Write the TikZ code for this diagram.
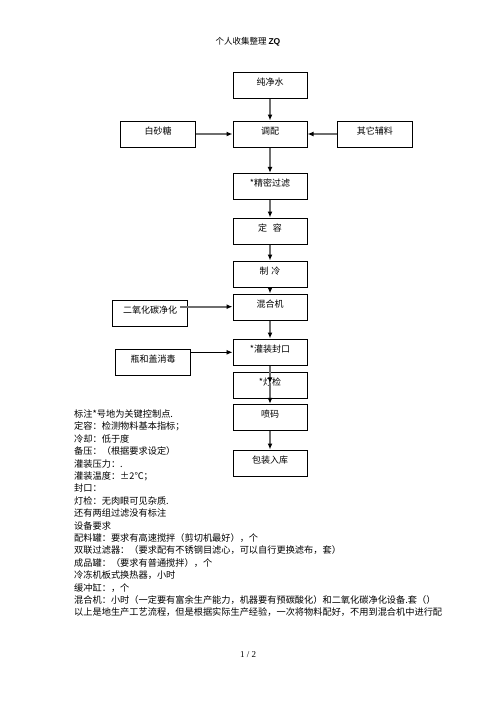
\documentclass[tikz,border=0pt]{standalone}
\usepackage{fontspec}
\setmainfont{Noto Sans CJK SC}
\newfontfamily\latinsans{Liberation Sans}
\newfontfamily\latinserif{Liberation Serif}
\usetikzlibrary{arrows.meta}
\definecolor{arrgray}{RGB}{110,110,110}
\begin{document}
\begin{tikzpicture}[x=1pt,y=-1pt,
  box/.style={draw=black,line width=1pt,minimum width=74pt,minimum height=26pt,inner sep=0pt,
    text height=8pt,text depth=7pt,font=\fontsize{9}{10}\selectfont},
  sidebox/.style={box,minimum width=75pt},
  flow/.style={draw=arrgray,line width=1.8pt,-{Latex[length=6pt,width=5pt,color=black]}},
  thinflow/.style={draw=black,line width=0.9pt,-{Latex[length=6pt,width=5pt]}},
  body/.style={anchor=west,inner sep=0pt,font=\fontsize{9.2}{11}\selectfont}]
\useasboundingbox[fill=white] (0,0) rectangle (496,702);

\node (hdr) at (248,42) {\fontsize{8.5}{10}\selectfont 个人收集整理 {\latinsans\bfseries ZQ}};

\node[box] (water) at (270,85) {纯净水};
\node[box] (mix) at (270,134) {调配};
\node[sidebox] (sugar) at (158.2,134) {白砂糖};
\node[sidebox] (other) at (374.8,134) {其它辅料};
\node[box] (filter) at (270,186.3) {*精密过滤};
\node[box] (vol) at (270,231) {定\hspace{6pt}容\hspace{10pt}};
\node[box] (cool) at (270,274) {制\hspace{3pt}冷};
\node[box] (mixer) at (270,307) {混合机};
\node[sidebox] (co2) at (150,313) {二氧化碳净化};
\node[box] (fill) at (270,352) {*灌装封口};
\node[sidebox] (bottle) at (153,362.3) {瓶和盖消毒};
\node[box] (lamp) at (270,385.3) {*灯检};
\node[box] (code) at (270,417.3) {喷码};
\node[box] (pack) at (270,463) {包装入库};

\draw[flow] (water) -- (mix);
\draw[flow] (sugar) -- (mix);
\draw[flow] (other) -- (mix);
\draw[flow] (mix) -- (filter);
\draw[flow] (filter) -- (vol);
\draw[flow] (vol) -- (cool);
\draw[flow] (cool) -- (mixer);
\coordinate (co2out) at ([shift={(-8,-6.3)}]co2.east);
\draw[flow] (co2out) -- (co2out -| mixer.west);
\draw[flow] (mixer) -- (fill);
\coordinate (botout) at ([yshift=10pt]bottle.east);
\draw[thinflow] (botout) -- (botout -| fill.west);
\draw[flow] (fill.south) -- ([yshift=2pt]lamp.center);
\draw[flow] ([yshift=2pt]lamp.center) -- (code.north);
\draw[flow] (code) -- (pack);

\foreach \t [count=\i] in {
  {标注*号地为关键控制点.},
  {定容：检测物料基本指标；},
  {冷却：低于度},
  {备压：（根据要求设定）},
  {灌装压力：.},
  {灌装温度：±2℃；},
  {封口：},
  {灯检：无肉眼可见杂质.},
  {还有两组过滤没有标注},
  {设备要求},
  {配料罐：要求有高速搅拌（剪切机最好），个},
  {双联过滤器：（要求配有不锈钢目滤心，可以自行更换滤布，套）},
  {成品罐：（要求有普通搅拌），个},
  {冷冻机板式换热器，小时},
  {缓冲缸：，个},
  {混合机：小时（一定要有富余生产能力，机器要有预碳酸化）和二氧化碳净化设备.套（）},
  {以上是地生产工艺流程，但是根据实际生产经验，一次将物料配好，不用到混合机中进行配}}
  \node[body] (line\i) at (74,{414+12.4*(\i-1)}) {\t};

\node (pg) at (248,655) {\latinserif\fontsize{9}{10}\selectfont 1 / 2};
\end{tikzpicture}
\end{document}
